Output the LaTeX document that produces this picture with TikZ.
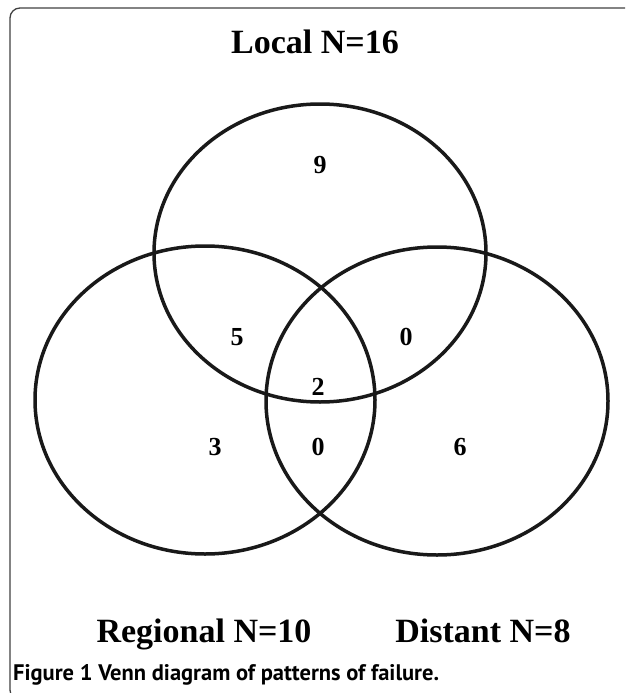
\documentclass[tikz,border=0pt]{standalone}
\usepackage{fontspec}
\setmainfont{Liberation Serif}
\setsansfont{PT Sans}
\tikzset{
	set/.style = {line width = 3.5pt, black!90},
	setlabel/.style = {font = \fontsize{34}{36}\selectfont\bfseries, anchor = base},
	count/.style = {font = \fontsize{26}{28}\selectfont\bfseries},
}
\begin{document}
\begin{tikzpicture}[x = 1pt, y = -1pt]
	\useasboundingbox (0,0) rectangle (625,693);
	\clip (0,0) rectangle (625,693);
	\coordinate[](local) at (320,253) ;
	\coordinate[](regional) at (205,400) ;
	\coordinate[](distant) at (437,401) ;
	
	% frame
	\draw[black!75, line width = 1.3pt, rounded corners = 10pt] (10,8) rectangle (660,700);
	
	% the three sets
	\draw[set] (local) ellipse (166pt and 149pt);
	\draw[set] (regional) ellipse (170pt and 154pt);
	\draw[set] (distant) ellipse (171pt and 154pt);
	
	\node[setlabel](localname) at (315,53) {Local N=16};
	\node[setlabel](regionalname) at (204,642) {Regional N=10};
	\node[setlabel](distantname) at (483,642) {Distant N=8};
	
	\node[count](nL) at (320,165) {9};
	\node[count](nLR) at (237,337) {5};
	\node[count](nLD) at (406,337) {0};
	\node[count](nLRD) at (318,387) {2};
	\node[count](nR) at (215,447) {3};
	\node[count](nRD) at (318,447) {0};
	\node[count](nD) at (460,447) {6};
	
	\node[anchor = base west, inner sep = 0pt, font = \sffamily\fontsize{22.5}{24}\selectfont\bfseries](caption) at (13,680)
		{Figure 1 Venn diagram of patterns of failure.};
\end{tikzpicture}
\end{document}
